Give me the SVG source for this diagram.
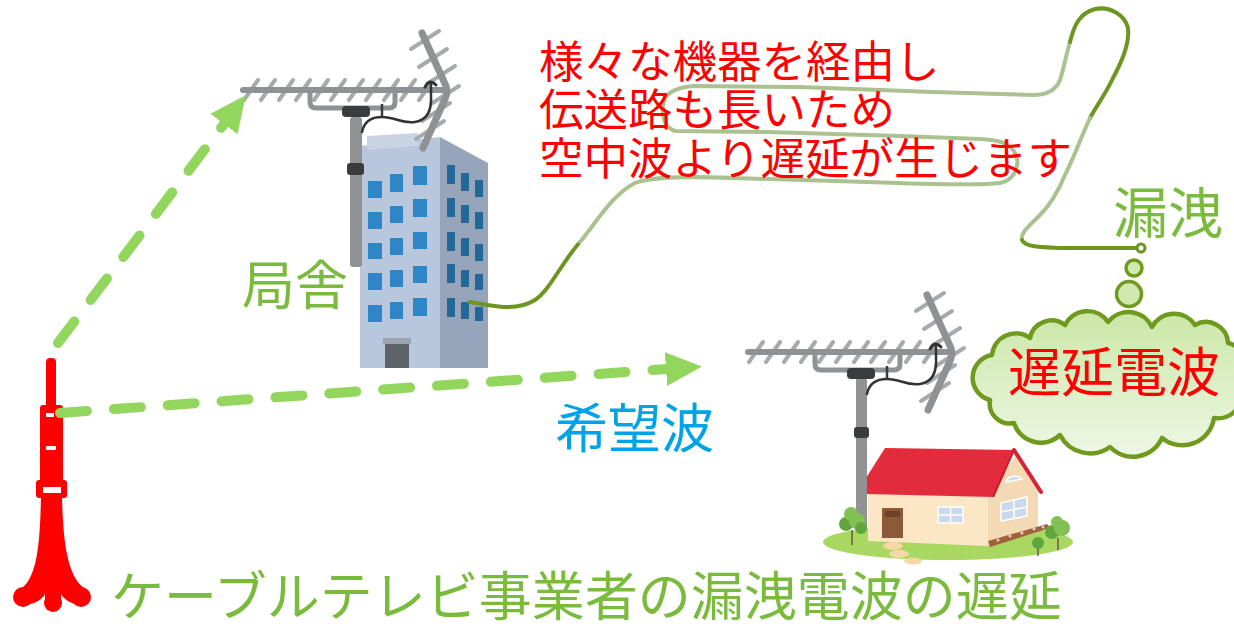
<svg xmlns="http://www.w3.org/2000/svg" xmlns:xlink="http://www.w3.org/1999/xlink" width="1234" height="627" viewBox="0 0 1234 627">
  <style>
    .jp { font-family: "Noto Sans CJK JP", "Noto Sans", sans-serif; }
    .red { fill: #ff0000; }
    .grn { fill: #7aba3c; }
    .blu { fill: #00a2e8; }
    .wave { fill: none; stroke: #92d65e; stroke-width: 10; stroke-linecap: round; stroke-dasharray: 27 27; }
    .cab-d { fill: none; stroke: #6c961f; stroke-width: 4; stroke-linecap: round; }
    .cab-l { fill: none; stroke: #abc190; stroke-width: 4; stroke-linecap: round; }
    .metal { fill: none; stroke: #8f9294; stroke-linecap: round; }
    .elem { fill: none; stroke: #a7aaac; stroke-width: 4; stroke-linecap: round; }
    .black { fill: #3a3b3d; }
    .winF { fill: #2f86c6; }
    .winS { fill: #24689a; }
    .glass { fill: #c9d9ec; stroke: #ffffff; stroke-width: 1.5; }
    .leaf { fill: #5fa63c; }
    .leaf2 { fill: #82c255; }
  </style>
  <defs>
    <marker id="head" viewBox="0 -20 40 40" markerWidth="40" markerHeight="40" refX="0" refY="0" orient="auto" markerUnits="userSpaceOnUse">
      <path d="M36,0 L0,-17 L0,17 Z" fill="#92d65e"/>
    </marker>
    <linearGradient id="cloudFill" x1="0" y1="0" x2="0" y2="1">
      <stop offset="0" stop-color="#cbe7a6"/>
      <stop offset="1" stop-color="#eef7e6"/>
    </linearGradient>
    <!-- Yagi antenna head: boom, directors, bracket, clamp, reflector and feed cable -->
    <g id="yagi">
      <path class="elem" d="M244,100 l14,-20 M261,100 l14,-20 M279,100 l14,-20 M296,100 l14,-20 M314,100 l14,-20 M331,100 l14,-20 M349,100 l14,-20 M366,100 l14,-20 M384,100 l14,-20 M401,100 l14,-20 M419,100 l14,-20"/>
      <path class="elem" d="M411,49 l28,-18 M419,67 l28,-18 M427,84 l28,-18 M431,104 l28,-18 M422,121 l28,-18 M416,139 l28,-18"/>
      <path class="metal" stroke-width="6" d="M243,90 H443"/>
      <path class="metal" stroke-width="7" d="M422,33 L446,86 Q448,92 445,99 L423,148"/>
      <path class="metal" stroke-width="5" d="M310,92 V102 Q310,108 316,108 H389 Q395,108 395,102 V92"/>
      <rect class="black" x="342" y="106" width="28" height="11" rx="4"/>
      <path d="M382,104 V117" stroke="#3a3b3d" stroke-width="2.5"/>
      <path d="M362,132 C364,122 370,117 382,117 C395,117 402,124 415,122 C428,120 432,110 431,95 L431,84" fill="none" stroke="#333" stroke-width="2.5" stroke-linecap="round"/>
      <path d="M425,87 Q430,78 436,85" fill="none" stroke="#333" stroke-width="3" stroke-linecap="round"/>
    </g>
  </defs>

  <rect width="1234" height="627" fill="#ffffff"/>

  <!-- Broadcast tower -->
  <g id="tower">
    <rect x="46" y="358" width="10" height="52" rx="4" fill="#ff0000"/>
    <rect x="40" y="405" width="23" height="78" rx="3" fill="#ff0000"/>
    <rect x="36" y="480" width="31" height="18" rx="3" fill="#ff0000"/>
    <path d="M41,496 H62 C63,545 68,576 84,588 L84,604 C74,606 64,600 61,594 L61,606 L45,606 L45,594 C42,600 32,606 22,604 L22,588 C37,576 40,545 41,496 Z" fill="#ff0000"/>
    <circle cx="23" cy="597" r="10" fill="#ff0000"/>
    <circle cx="53" cy="603" r="9" fill="#ff0000"/>
    <circle cx="81" cy="597" r="10" fill="#ff0000"/>
    <rect x="46" y="413" width="8" height="4" fill="#ffffff"/>
    <rect x="46" y="446" width="10" height="4" fill="#ffffff"/>
    <rect x="43" y="487" width="18" height="6" fill="#ffffff"/>
  </g>

  <!-- Head-end building with receiving antenna -->
  <g id="station">
    <polygon points="360,146 440,137 440,368 360,368" fill="#b9c7dc"/>
    <polygon points="440,137 488,163 488,368 440,368" fill="#97a5ba"/>
    <polygon points="367,136 418,133 418,146 367,150" fill="#c9d3e3"/>
    <g class="winF">
      <rect x="368" y="181" width="14" height="17"/><rect x="390" y="174" width="13" height="18"/><rect x="413" y="166" width="14" height="19"/>
      <rect x="368" y="212" width="14" height="17"/><rect x="390" y="206" width="13" height="17"/><rect x="413" y="199" width="14" height="18"/>
      <rect x="368" y="243" width="14" height="16"/><rect x="390" y="238" width="13" height="17"/><rect x="413" y="232" width="14" height="17"/>
      <rect x="368" y="273" width="14" height="17"/><rect x="390" y="270" width="13" height="17"/><rect x="413" y="266" width="14" height="17"/>
      <rect x="368" y="305" width="14" height="17"/><rect x="390" y="302" width="13" height="17"/><rect x="413" y="298" width="14" height="18"/>
    </g>
    <g class="winS">
      <rect x="447" y="165" width="8" height="19"/><rect x="461" y="173" width="8" height="18"/><rect x="475" y="180" width="8" height="17"/>
      <rect x="447" y="198" width="8" height="19"/><rect x="461" y="205" width="8" height="18"/><rect x="475" y="212" width="8" height="17"/>
      <rect x="447" y="232" width="8" height="19"/><rect x="461" y="238" width="8" height="18"/><rect x="475" y="244" width="8" height="17"/>
      <rect x="447" y="264" width="8" height="19"/><rect x="461" y="270" width="8" height="17"/><rect x="475" y="274" width="8" height="16"/>
      <rect x="447" y="298" width="8" height="19"/><rect x="461" y="302" width="8" height="17"/><rect x="475" y="307" width="8" height="14"/>
    </g>
    <rect x="383" y="338" width="28" height="6" fill="#9aa3ae"/>
    <rect x="385" y="344" width="24" height="24" fill="#5f636b"/>
    <rect x="350" y="117" width="12" height="150" rx="3" fill="#909294"/>
    <rect x="347" y="163" width="17" height="12" rx="3" class="black"/>
    <use xlink:href="#yagi"/>
  </g>

  <!-- Home with antenna -->
  <g id="home">
    <ellipse cx="948" cy="542" rx="125" ry="18" fill="#a9d862"/>
    <ellipse cx="893" cy="546" rx="10" ry="4" fill="#f4d7a4"/>
    <ellipse cx="899" cy="554" rx="10" ry="4" fill="#f4d7a4"/>
    <ellipse cx="913" cy="561" rx="9" ry="3.5" fill="#f4d7a4"/>
    <polygon points="868,492 988,496 988,546 868,541" fill="#fbe6c6"/>
    <polygon points="988,496 1016,455 1038,490 1038,532 988,546" fill="#f3dab4"/>
    <polygon points="885,448 1014,450 993,497 866,494 866,478" fill="#e22c3b"/>
    <path d="M1014,450 L1041,492" stroke="#d62434" stroke-width="4" stroke-linecap="round"/>
    <path d="M1014,450 L993,497" stroke="#c81e2e" stroke-width="2"/>
    <rect x="882" y="508" width="21" height="30" fill="#8c5a3a"/>
    <rect x="885" y="511" width="15" height="6" fill="#6e4228"/>
    <rect x="938" y="507" width="25" height="16" class="glass"/>
    <path d="M950.5,507 V523 M938,515 H963" stroke="#ffffff" stroke-width="1.5"/>
    <polygon points="1001,503 1027,497 1027,516 1001,521" class="glass"/>
    <path d="M1014,500 V518.5 M1001,512 L1027,507" stroke="#ffffff" stroke-width="1.5"/>
    <path d="M1006,482 A9,7 0 0 1 1022,479 Z" class="glass"/>
    <polygon points="988,541 1047,524 1050,528 990,547" fill="#a0623a"/>
    <g fill="#f6c8d6"><circle cx="998" cy="540" r="1.5"/><circle cx="1010" cy="536" r="1.5"/><circle cx="1022" cy="533" r="1.5"/><circle cx="1034" cy="529" r="1.5"/><circle cx="1043" cy="527" r="1.5"/></g>
    <rect x="856" y="378" width="11" height="152" rx="3" fill="#909294"/>
    <rect x="854" y="427" width="15" height="11" rx="3" class="black"/>
    <g>
      <path d="M852,530 V545" stroke="#6b5a3a" stroke-width="1.5"/>
      <circle cx="846" cy="524" r="7" class="leaf"/><circle cx="857" cy="521" r="8" class="leaf2"/><circle cx="851" cy="514" r="7" class="leaf2"/><circle cx="861" cy="528" r="6" class="leaf"/>
      <path d="M1058,538 V550" stroke="#6b5a3a" stroke-width="1.5"/>
      <circle cx="1052" cy="532" r="7" class="leaf"/><circle cx="1062" cy="528" r="8" class="leaf2"/><circle cx="1057" cy="522" r="6" class="leaf2"/>
      <path d="M1038,548 V556" stroke="#6b5a3a" stroke-width="1.5"/>
      <circle cx="1038" cy="543" r="6" class="leaf"/>
    </g>
    <use xlink:href="#yagi" transform="translate(505,262)"/>
  </g>

  <!-- Radio paths and cable run -->
  <g id="connectors">
    <line class="wave" x1="58" y1="343" x2="224" y2="124" marker-end="url(#head)"/>
    <line class="wave" x1="60" y1="413" x2="666" y2="369" marker-end="url(#head)"/>
    <path class="cab-d" d="M470,302 C495,306 515,312 535,300 C550,290 562,262 580,242"/>
    <path class="cab-l" d="M580,242 C598,220 612,195 635,183 C650,177 680,176 733,178 L867,182 C920,184 975,186 1000,183 C1015,180 1020,165 1016,155 C1011,143 1000,140 980,139 L900,136 L767,132 L675,131 C665,128 662,118 663,105 C664,95 672,88 693,86 L800,87 L933,92 L1033,95 C1048,95 1056,90 1060,80 C1064,68 1066,55 1070,42"/>
    <path class="cab-d" d="M1070,42 C1074,25 1080,13 1095,9 C1110,6 1125,15 1128,28 C1130,45 1120,65 1112,80 C1105,95 1095,108 1090,118"/>
    <path class="cab-l" d="M1090,118 C1082,135 1075,155 1065,175 C1058,192 1050,205 1040,215 C1030,225 1020,233 1022,240"/>
    <path class="cab-d" d="M1022,240 C1025,247 1040,247 1060,248 L1138,248"/>
    <circle cx="1141" cy="248" r="4" fill="#ffffff" stroke="#6c961f" stroke-width="3"/>
  </g>

  <!-- Thought cloud -->
  <g id="cloud">
    <circle cx="1134" cy="268" r="8" fill="#cfe9b0" stroke="#6f9a1e" stroke-width="3.5"/>
    <circle cx="1129" cy="294" r="12.5" fill="#cfe9b0" stroke="#6f9a1e" stroke-width="3.5"/>
    <path d="M990,400 A23,23 0 0 1 992,355 A24,24 0 0 1 1030,338 A22,22 0 0 1 1065,325 A25,25 0 0 1 1108,322 A26,26 0 0 1 1152,327 A25,25 0 0 1 1195,325 A22,22 0 0 1 1228,343 A25,25 0 0 1 1240,385 A24,24 0 0 1 1214,418 A32,32 0 0 1 1162,438 A32,32 0 0 1 1110,447 A34,34 0 0 1 1060,435 A28,28 0 0 1 1014,423 A20,20 0 0 1 990,400 Z" fill="url(#cloudFill)" stroke="#6f9a1e" stroke-width="4.5" stroke-linejoin="round"/>
    <text class="jp red" x="1008" y="392" font-size="53">遅延電波</text>
  </g>

  <!-- Labels -->
  <g id="labels">
    <text class="jp red" font-size="44.5">
      <tspan x="539" y="78">様々な機器を経由し</tspan>
      <tspan x="539" y="126">伝送路も長いため</tspan>
      <tspan x="539" y="175">空中波より遅延が生じます</tspan>
    </text>
    <text class="jp grn" x="242" y="305" font-size="53">局舎</text>
    <text class="jp blu" x="555" y="448" font-size="53">希望波</text>
    <text class="jp grn" x="1113" y="233" font-size="55">漏洩</text>
    <text class="jp grn" x="111" y="616" font-size="53">ケーブルテレビ事業者の漏洩電波の遅延</text>
  </g>
</svg>
